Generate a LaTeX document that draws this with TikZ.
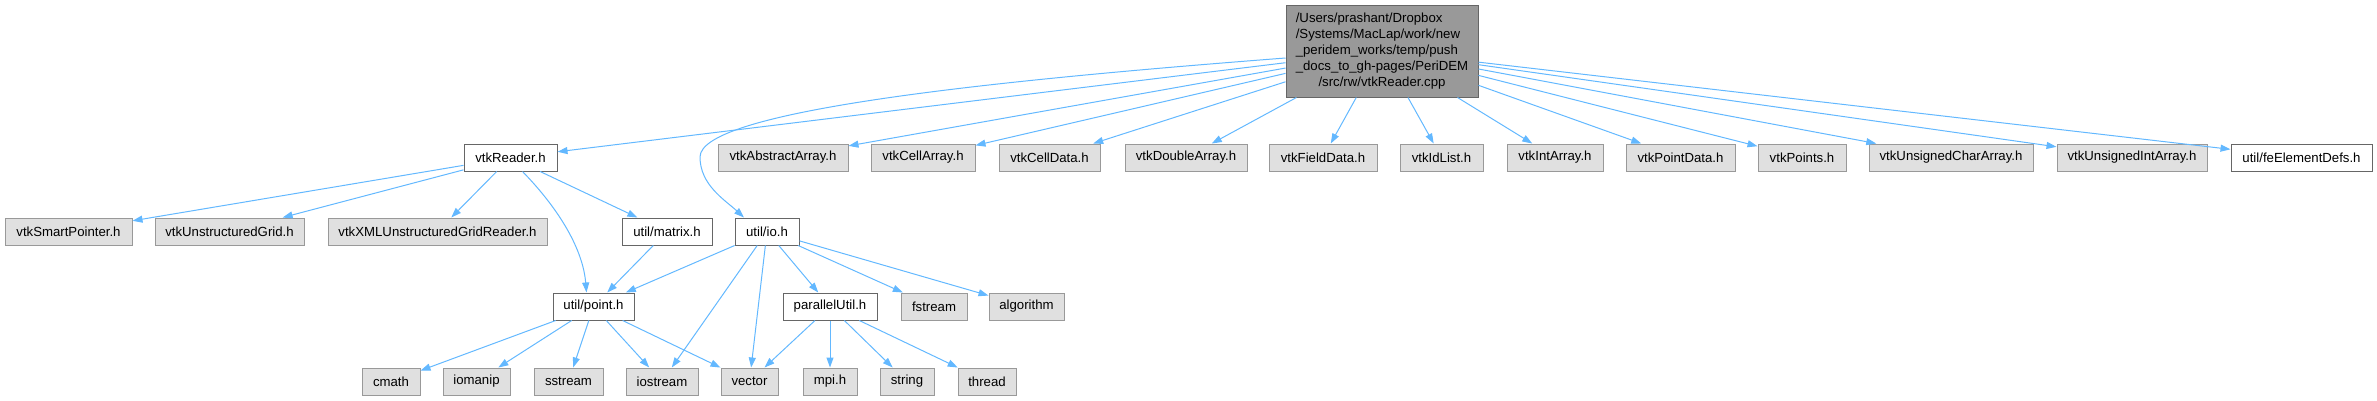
\documentclass[tikz,border=0pt]{standalone}
\usepackage{fontspec}
\setmainfont{Liberation Sans}
\definecolor{dxedge}{HTML}{63B8FF}
\definecolor{dxgray}{HTML}{E0E0E0}
\definecolor{dxline}{HTML}{999999}
\definecolor{dxdark}{HTML}{666666}
\usetikzlibrary{arrows.meta}

\begin{document}
\begin{tikzpicture}[x=1pt,y=-1pt,
  bx/.style={draw,line width=1pt,minimum height=27pt,inner sep=2pt,font=\fontsize{13.2}{16}\selectfont},
  gbx/.style={bx,fill=dxgray,draw=dxline},
  wbx/.style={bx,fill=white,draw=dxdark},
  rbx/.style={bx,fill=dxline,draw=dxdark},
  dep/.style={-{Triangle[length=10pt,width=7pt]},dxedge,line width=1pt}]
  \useasboundingbox (0,0) rectangle (2377,400);
  \node[rbx,minimum width=192pt,minimum height=92pt] (root) at (1382,51) {\begin{tabular}{@{}l@{}}/Users/prashant/Dropbox\\/Systems/MacLap/work/new\\\_peridem\_works/temp/push\\\_docs\_to\_gh-pages/PeriDEM\\\multicolumn{1}{@{}c@{}}{/src/rw/vtkReader.cpp}\end{tabular}};
  % first row
  \node[wbx,minimum width=93pt] (reader) at (510.5,157.5) {vtkReader.h};
  \node[gbx,minimum width=130pt] (absarr) at (783,157.5) {vtkAbstractArray.h};
  \node[gbx,minimum width=104pt] (cellarr) at (923,157.5) {vtkCellArray.h};
  \node[gbx,minimum width=101pt] (celldata) at (1049.5,157.5) {vtkCellData.h};
  \node[gbx,minimum width=122pt] (dblarr) at (1186,157.5) {vtkDoubleArray.h};
  \node[gbx,minimum width=108pt] (fielddata) at (1323,157.5) {vtkFieldData.h};
  \node[gbx,minimum width=83pt] (idlist) at (1441.5,157.5) {vtkIdList.h};
  \node[gbx,minimum width=96pt] (intarr) at (1555,157.5) {vtkIntArray.h};
  \node[gbx,minimum width=109pt] (ptdata) at (1680.5,157.5) {vtkPointData.h};
  \node[gbx,minimum width=88pt] (points) at (1802,157.5) {vtkPoints.h};
  \node[gbx,minimum width=164pt] (ucharr) at (1951,157.5) {vtkUnsignedCharArray.h};
  \node[gbx,minimum width=150pt] (uintarr) at (2132,157.5) {vtkUnsignedIntArray.h};
  \node[wbx,minimum width=141pt] (feelem) at (2301.5,157.5) {util/feElementDefs.h};
  % second row
  \node[gbx,minimum width=127pt] (smartp) at (68.5,231.5) {vtkSmartPointer.h};
  \node[gbx,minimum width=149pt] (ugrid) at (229.5,231.5) {vtkUnstructuredGrid.h};
  \node[gbx,minimum width=219pt] (xmlreader) at (437.5,231.5) {vtkXMLUnstructuredGridReader.h};
  \node[wbx,minimum width=90pt] (matrix) at (667,231.5) {util/matrix.h};
  \node[wbx,minimum width=64pt] (io) at (767,231.5) {util/io.h};
  % third row
  \node[wbx,minimum width=81pt] (point) at (593.5,306.5) {util/point.h};
  \node[wbx,minimum width=94pt] (putil) at (830,306.5) {parallelUtil.h};
  \node[gbx,minimum width=66pt] (fstream) at (934,306.5) {fstream};
  \node[gbx,minimum width=75pt] (algo) at (1026.5,306.5) {algorithm};
  % last row
  \node[gbx,minimum width=58pt] (cmath) at (391,381.5) {cmath};
  \node[gbx,minimum width=67pt] (iomanip) at (476.5,381.5) {iomanip};
  \node[gbx,minimum width=69pt] (sstream) at (568.5,381.5) {sstream};
  \node[gbx,minimum width=72pt] (iostream) at (662,381.5) {iostream};
  \node[gbx,minimum width=57pt] (vector) at (749.5,381.5) {vector};
  \node[gbx,minimum width=54pt] (mpi) at (830,381.5) {mpi.h};
  \node[gbx,minimum width=54pt] (string) at (907,381.5) {string};
  \node[gbx,minimum width=58pt] (thread) at (987,381.5) {thread};
  % edges
  \draw[dep] (root) -- (reader);
  \draw[dep] ([yshift=-7pt]root.west) .. controls (1000,80) and (700,110) .. (700,157) .. controls (700,185) and (725,200) .. ([xshift=-23pt]io.north);
  \draw[dep] (root) -- (absarr);
  \draw[dep] (root) -- (cellarr);
  \draw[dep] (root) -- (celldata);
  \draw[dep] (root) -- (dblarr);
  \draw[dep] (root) -- (fielddata);
  \draw[dep] (root) -- (idlist);
  \draw[dep] (root) -- (intarr);
  \draw[dep] (root) -- (ptdata);
  \draw[dep] (root) -- (points);
  \draw[dep] (root) -- (ucharr);
  \draw[dep] (root) -- (uintarr);
  \draw[dep] (root) -- (feelem);
  \draw[dep] (reader) -- (smartp);
  \draw[dep] (reader) -- (ugrid);
  \draw[dep] (reader) -- (xmlreader);
  \draw[dep] (reader) -- (matrix);
  \draw[dep] ([xshift=12pt]reader.south) .. controls (560,210) and (583,250) .. ([xshift=-7pt]point.north);
  \draw[dep] (matrix) -- (point);
  \draw[dep] (io) -- (point);
  \draw[dep] (io) -- (iostream);
  \draw[dep] (io) -- (vector);
  \draw[dep] (io) -- (putil);
  \draw[dep] (io) -- (fstream);
  \draw[dep] (io) -- (algo);
  \draw[dep] (point) -- (cmath);
  \draw[dep] (point) -- (iomanip);
  \draw[dep] (point) -- (sstream);
  \draw[dep] (point) -- (iostream);
  \draw[dep] (point) -- (vector);
  \draw[dep] (putil) -- (vector);
  \draw[dep] (putil) -- (mpi);
  \draw[dep] (putil) -- (string);
  \draw[dep] (putil) -- (thread);
\end{tikzpicture}
\end{document}
